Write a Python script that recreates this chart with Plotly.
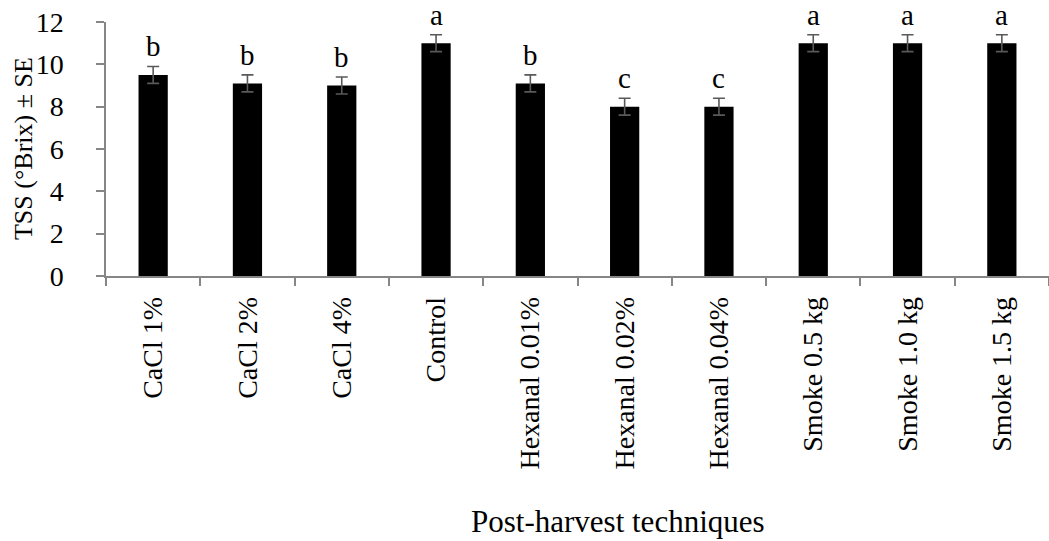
import plotly.graph_objects as go

categories = ["CaCl 1%", "CaCl 2%", "CaCl 4%", "Control", "Hexanal 0.01%",
              "Hexanal 0.02%", "Hexanal 0.04%", "Smoke 0.5 kg", "Smoke 1.0 kg", "Smoke 1.5 kg"]
tss = [9.5, 9.1, 9.0, 11.0, 9.1, 8.0, 8.0, 11.0, 11.0, 11.0]
se = [0.4, 0.4, 0.4, 0.4, 0.4, 0.4, 0.4, 0.4, 0.4, 0.4]
letters = ["b", "b", "b", "a", "b", "c", "c", "a", "a", "a"]
y_ticks = [0, 2, 4, 6, 8, 10, 12]

FONT = "Liberation Serif, Times New Roman, serif"
AXIS_GREY = "#868686"

fig = go.Figure()
fig.add_trace(go.Bar(
    x=categories, y=tss,
    width=0.31,
    marker=dict(color="black", line=dict(width=0)),
    error_y=dict(type="data", array=se, visible=True, color="#595959", thickness=1.6, width=6),
))

for c, v, s, l in zip(categories, tss, se, letters):
    fig.add_annotation(x=c, y=v + s, text=l, showarrow=False, yanchor="bottom",
                       yshift=2, font=dict(family=FONT, size=29, color="black"))

fig.add_annotation(xref="paper", yref="paper", x=0.543, y=-0.968, text="Post-harvest techniques",
                   showarrow=False, xanchor="center", yanchor="middle",
                   font=dict(family=FONT, size=31, color="black"))
fig.add_annotation(xref="paper", yref="paper", x=-0.088, y=0.5, text="TSS (°Brix) ± SE",
                   showarrow=False, textangle=-90, xanchor="center", yanchor="middle",
                   font=dict(family=FONT, size=26, color="black"))

fig.update_layout(
    width=1049, height=541,
    margin=dict(l=106, r=0, t=22, b=265.4, autoexpand=False),
    plot_bgcolor="white", paper_bgcolor="white",
    showlegend=False,
    font=dict(family=FONT, size=28, color="black"),
)
fig.update_xaxes(
    type="category", showline=True, linecolor=AXIS_GREY, linewidth=1.5,
    ticks="outside", tickson="boundaries", ticklen=8, tickcolor=AXIS_GREY, tickwidth=1.5,
    tickangle=-90, ticklabelstandoff=8, showgrid=False, automargin=False,
    tickfont=dict(family=FONT, size=28, color="black"),
)
fig.update_yaxes(
    range=[0, 12], tickvals=y_ticks, showline=True, linecolor=AXIS_GREY, linewidth=1.5,
    ticks="outside", ticklen=8, tickcolor=AXIS_GREY, tickwidth=1.5,
    ticklabelstandoff=27, showgrid=False, zeroline=False, automargin=False,
    tickfont=dict(family=FONT, size=28, color="black"),
)

fig.write_html("out.html")
